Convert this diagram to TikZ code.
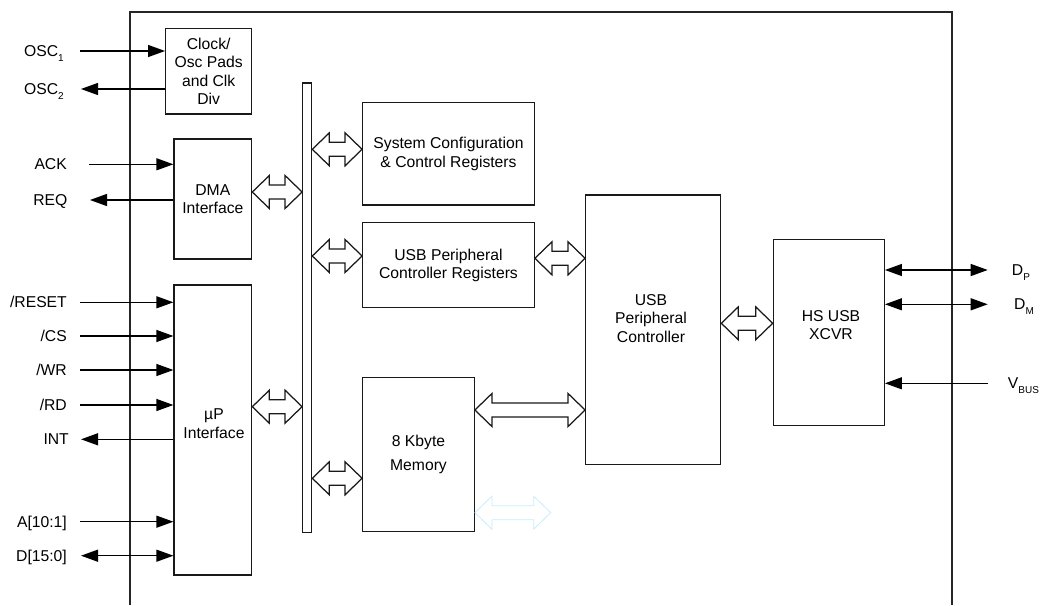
\documentclass[tikz,border=0pt]{standalone}
\usepackage{fontspec}
\setmainfont{Liberation Sans}
\usetikzlibrary{arrows.meta,calc}

% lowered small index, as in OSC1, DP, VBUS
\newcommand\subtxt[1]{\raisebox{-4.5pt}{\fontsize{10}{12}\selectfont #1}}

% hollow two-headed bus arrow between two points on one horizontal line
\newcommand\fatarrow[3][]{%
  \draw[fatarrow,#1] let \p1=#2, \p2=#3 in
    (\x1,\y1) -- ++(17pt,16.5pt) -- ++(0,-9.5pt) -- (\x2-17pt,\y1+7pt)
    -- ++(0,9.5pt) -- (\x2,\y1) -- ++(-17pt,-16.5pt) -- ++(0,9.5pt)
    -- (\x1+17pt,\y1-7pt) -- ++(0,-9.5pt) -- cycle;}

\tikzset{
  txt/.style={font=\fontsize{15.7}{18.5}\selectfont, align=center, inner sep=0pt},
  box/.style={draw=black!90, line width=1.25pt, inner sep=0pt, txt},
  busbar/.style={draw=black!90, line width=1.25pt, fill=white, inner sep=0pt},
  lab/.style={font=\fontsize{15.7}{18.5}\selectfont, inner sep=0pt},
  sig/.style={draw=black, line width=1.25pt},
  tipend/.style={-{Triangle[length=17pt,width=12pt]}},
  tipboth/.style={{Triangle[length=17pt,width=12pt]}-{Triangle[length=17pt,width=12pt]}},
  fatarrow/.style={draw=black!90, line width=1.25pt, fill=white, line join=miter},
  ghost/.style={draw={rgb,255:red,200;green,236;blue,248}, line width=0.8pt, fill=none},
  frame/.style={draw=black!85, line width=1.25pt}
}

\begin{document}
\begin{tikzpicture}[x=1pt,y=-1pt]
\useasboundingbox (0,0) rectangle (1041,605);

% chip outline, open at the bottom
\draw[frame] (130,605) -- (130,12) -- (952,12) -- (952,605);

% functional blocks
\node[box, minimum width=86pt, minimum height=85.3pt] (clk) at (208.7,71.35) {Clock/\\Osc Pads\\and Clk\\Div};
\node[box, minimum width=77.7pt, minimum height=120pt] (dma) at (212.85,199) {DMA\\Interface};
\node[box, minimum width=77.7pt, minimum height=290pt] (up) at (212.85,430) {};
\node[txt] (uptext) at (214,423.5) {µP\\Interface};
\node[busbar, minimum width=9pt, minimum height=449.3pt] (bus) at (307.2,307.65) {};
\node[box, minimum width=171.6pt, minimum height=102.3pt] (sys) at (448.5,153.85) {System Configuration\\\& Control Registers};
\node[box, minimum width=171.6pt, minimum height=85pt] (reg) at (448.5,265.2) {USB Peripheral\\Controller Registers};
\node[box, minimum width=111.6pt, minimum height=154pt] (mem) at (418.5,454.7) {8 Kbyte\\[5.5pt]Memory};
\node[box, minimum width=135pt, minimum height=269.3pt] (ctl) at (653.2,329.65) {};
\node[txt] (ctltext) at (651,318.5) {USB\\Peripheral\\Controller};
\node[box, minimum width=111pt, minimum height=186.4pt] (xcvr) at (828.8,332.5) {};
\node[txt] (xcvrtext) at (831,325) {HS USB\\XCVR};

% internal bus arrows
\fatarrow{(dma.east |- 0,192)}{(bus.west |- 0,192)}
\fatarrow{(up.east |- 0,406.7)}{(bus.west |- 0,406.7)}
\fatarrow{(bus.east |- 0,149.3)}{(sys.west |- 0,149.3)}
\fatarrow{(bus.east |- 0,256)}{(reg.west |- 0,256)}
\fatarrow{(bus.east |- 0,478.3)}{(mem.west |- 0,478.3)}
\fatarrow{(reg.east |- 0,258.3)}{(ctl.west |- 0,258.3)}
\fatarrow{(mem.east |- 0,410)}{(ctl.west |- 0,410)}
\fatarrow{(ctl.east |- 0,323.3)}{(xcvr.west |- 0,323.3)}
\coordinate (ghostend) at (550.7,512.7);
\fatarrow[ghost]{(mem.east |- ghostend)}{(ghostend)}

% clock pins
\coordinate (osc1) at (80,51);
\coordinate (osc2) at (81,89);
\node[lab, anchor=base east] (osc1lab) at (64,56.6) {OSC\subtxt{1}};
\node[lab, anchor=base east] (osc2lab) at (64,94.6) {OSC\subtxt{2}};
\draw[sig,tipend] (osc1) -- (osc1 -| clk.west);
\draw[sig,tipend] (osc2 -| clk.west) -- (osc2);

% DMA pins
\coordinate (ack) at (89,164.3);
\coordinate (req) at (90,200);
\node[lab, anchor=base east] (acklab) at (67,169.9) {ACK};
\node[lab, anchor=base east] (reqlab) at (67.5,205.6) {REQ};
\draw[sig,tipend] (ack) -- (ack -| dma.west);
\draw[sig,tipend] (req -| dma.west) -- (req);

% microprocessor pins
\coordinate (rst) at (80,302.3);
\coordinate (cs)  at (80,336);
\coordinate (wr)  at (80,370);
\coordinate (rd)  at (80,405);
\coordinate (int) at (81,439.3);
\coordinate (adr) at (80,521.7);
\coordinate (dat) at (81,555.7);
\node[lab, anchor=base east] (rstlab) at (67,307.9) {/RESET};
\node[lab, anchor=base east] (cslab)  at (67,341.6) {/CS};
\node[lab, anchor=base east] (wrlab)  at (67,375.6) {/WR};
\node[lab, anchor=base east] (rdlab)  at (67,410.6) {/RD};
\node[lab, anchor=base east] (intlab) at (69,444.9) {INT};
\node[lab, anchor=base east] (adrlab) at (67,527.3) {A[10:1]};
\node[lab, anchor=base east] (datlab) at (67,561.3) {D[15:0]};
\draw[sig,tipend] (rst) -- (rst -| up.west);
\draw[sig,tipend] (cs) -- (cs -| up.west);
\draw[sig,tipend] (wr) -- (wr -| up.west);
\draw[sig,tipend] (rd) -- (rd -| up.west);
\draw[sig,tipend] (int -| up.west) -- (int);
\draw[sig,tipend] (adr) -- (adr -| up.west);
\draw[sig,tipboth] (dat) -- (dat -| up.west);

% USB pins
\coordinate (dp) at (987.7,270);
\coordinate (dm) at (987.7,304.3);
\coordinate (vbus) at (987.7,383.3);
\node[lab, anchor=base west] (dplab) at (1011.7,275.6) {D\subtxt{P}};
\node[lab, anchor=base west] (dmlab) at (1014,309.9) {D\subtxt{M}};
\node[lab, anchor=base west] (vbuslab) at (1007.7,388.9) {V\subtxt{BUS}};
\draw[sig,tipboth] (dp -| xcvr.east) -- (dp);
\draw[sig,tipboth] (dm -| xcvr.east) -- (dm);
\draw[sig,tipend] (vbus) -- (vbus -| xcvr.east);
\end{tikzpicture}
\end{document}
